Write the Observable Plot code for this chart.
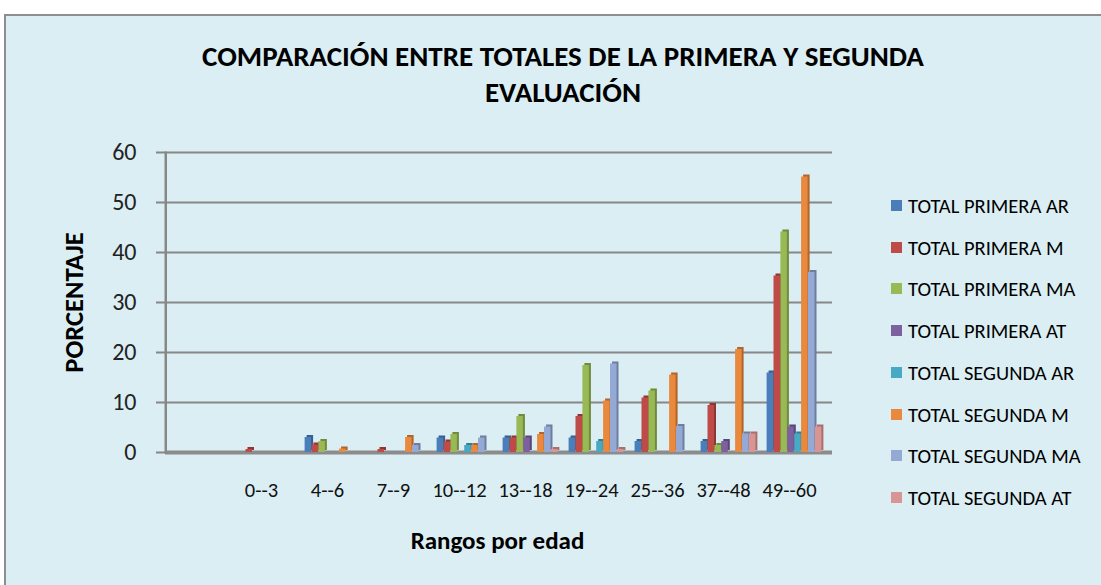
<!DOCTYPE html>
<html>
<head>
<meta charset="utf-8">
<script src="https://cdn.jsdelivr.net/npm/d3@7"></script>
<script src="https://cdn.jsdelivr.net/npm/@observablehq/plot@0.6"></script>
<style>
  html, body { margin: 0; padding: 0; background: #ffffff; }
  #page { position: relative; width: 1101px; height: 585px; overflow: hidden; font-family: "Carlito", "Lato", sans-serif; }
  #area { position: absolute; left: 4px; top: 14px; width: 1110px; height: 580px; background: #DAEEF3; border-top: 2px solid #8E8E8E; border-left: 2px solid #8E8E8E; }
  #title { position: absolute; left: 0; top: 38px; width: 1126px; text-align: center; font-weight: bold; font-size: 29px; line-height: 36px; color: #000; }
  #chart { position: absolute; left: 0; top: 120px; }
  #legend { position: absolute; left: 891px; top: 185px; }
  .item { position: absolute; left: 0; height: 22px; white-space: nowrap; font-size: 20.5px; color: #000; }
  .sw { position: absolute; left: 0; top: 5px; width: 11px; height: 11px; }
  .lb { position: absolute; left: 17px; top: 0; line-height: 22px; }
</style>
</head>
<body>
<div id="page">
  <div id="area"></div>
  <div id="title">COMPARACIÓN ENTRE TOTALES DE LA PRIMERA Y SEGUNDA<br>EVALUACIÓN</div>
  <div id="chart"></div>
  <div id="legend"></div>
</div>
<script>
const categories = ["", "0--3", "4--6", "7--9", "10--12", "13--18", "19--24", "25--36", "37--48", "49--60"];
const seriesNames = ["TOTAL PRIMERA AR", "TOTAL PRIMERA M", "TOTAL PRIMERA MA", "TOTAL PRIMERA AT",
                     "TOTAL SEGUNDA AR", "TOTAL SEGUNDA M", "TOTAL SEGUNDA MA", "TOTAL SEGUNDA AT"];
const seriesColors = ["#4A7EBB", "#BE4B48", "#98B954", "#7D60A0", "#46AAC5", "#E8893D", "#95A9D5", "#D99594"];
const sideColors = ["#36608F", "#8E3634", "#718A3D", "#5B4676", "#327F93", "#B0662B", "#6E7EA1", "#A86F6D"];

const primeraAR = [0, 0,   3.0, 0,   2.9, 2.9, 2.9,  2.2,  2.2, 15.9];
const primeraM  = [0, 0.6, 1.5, 0.6, 2.1, 2.9, 7.2, 10.9,  9.4, 35.3];
const primeraMA = [0, 0,   2.2, 0,   3.6, 7.2, 17.4, 12.3, 1.4, 44.1];
const primeraAT = [0, 0,   0,   0,   0,   2.9, 0,    0,    2.2,  5.1];
const segundaAR = [0, 0,   0,   0,   1.4, 0,   2.2,  0,    0,    3.7];
const segundaM  = [0, 0,   0.7, 3.0, 1.4, 3.6, 10.3, 15.5, 20.6, 55.1];
const segundaMA = [0, 0,   0,   1.4, 2.9, 5.1, 17.7, 5.2,  3.7, 36.0];
const segundaAT = [0, 0,   0,   0,   0,   0.6, 0.6,  0,    3.7,  5.1];

const yTicks = [0, 10, 20, 30, 40, 50, 60];

const seriesValues = [primeraAR, primeraM, primeraMA, primeraAT, segundaAR, segundaM, segundaMA, segundaAT];

const width = 1101, height = 465;
const marginLeft = 165, marginRight = 272, marginTop = 32, marginBottom = 133;
const bandW = (width - marginLeft - marginRight) / categories.length;
const barW = 6.9;
const pad = (bandW - barW * seriesNames.length) / 2;

const barMarks = [];
seriesNames.forEach((name, k) => {
  const rows = categories.map((c, i) => ({cat: c, value: seriesValues[k][i], series: name})).filter(d => d.value > 0);
  const insetLeft = pad + k * barW;
  const insetRight = pad + (seriesNames.length - 1 - k) * barW;
  // 3D side/top face
  barMarks.push(Plot.barY(rows, {x: "cat", y: "value", fill: sideColors[k], insetLeft, insetRight, dx: 2, dy: -2}));
  barMarks.push(Plot.barY(rows, {x: "cat", y: "value", fill: seriesColors[k], insetLeft, insetRight}));
});

const chart = Plot.plot({
  width, height, marginLeft, marginRight, marginTop, marginBottom,
  style: {background: "transparent", fontFamily: "Carlito, Lato, sans-serif", fontSize: "18px", color: "#222"},
  x: {domain: categories, padding: 0, axis: null},
  y: {domain: [0, 60], axis: null},
  marks: [
    Plot.ruleY(yTicks.slice(1), {stroke: "#878787", strokeWidth: 2.2, insetRight: -3}),
    Plot.ruleY([0], {stroke: "#8C8C8C", strokeWidth: 4, insetRight: -3}),
    Plot.frame({stroke: "#878787", strokeWidth: 2, insetRight: width - marginLeft - marginRight - 0.5, fill: "none"}),
    ...barMarks,
    Plot.axisY({ticks: yTicks, tickSize: 9, tickPadding: 20, stroke: "#878787", strokeWidth: 2, label: null, fontSize: 24, fill: "#222"}),
    Plot.axisX({tickSize: 0, tickPadding: 30, dx: -5, label: null, fontSize: 20.5, fill: "#111"}),
    Plot.text(["PORCENTAJE"], {frameAnchor: "left", textAnchor: "middle", lineAnchor: "middle", rotate: -90, dx: -91, fontSize: 26.5, fontWeight: "bold", fill: "#000"}),
    Plot.text(["Rangos por edad"], {frameAnchor: "bottom", textAnchor: "middle", lineAnchor: "middle", dy: 88, fontSize: 25, fontWeight: "bold", fill: "#000"})
  ]
});
document.getElementById("chart").appendChild(chart);

const legend = document.getElementById("legend");
seriesNames.forEach((name, k) => {
  const item = document.createElement("div");
  item.className = "item";
  item.style.top = (10 + k * 41.7) + "px";
  const sw = document.createElement("div");
  sw.className = "sw";
  sw.style.background = seriesColors[k];
  const lb = document.createElement("div");
  lb.className = "lb";
  lb.textContent = name;
  item.appendChild(sw);
  item.appendChild(lb);
  legend.appendChild(item);
});
</script>
</body>
</html>
